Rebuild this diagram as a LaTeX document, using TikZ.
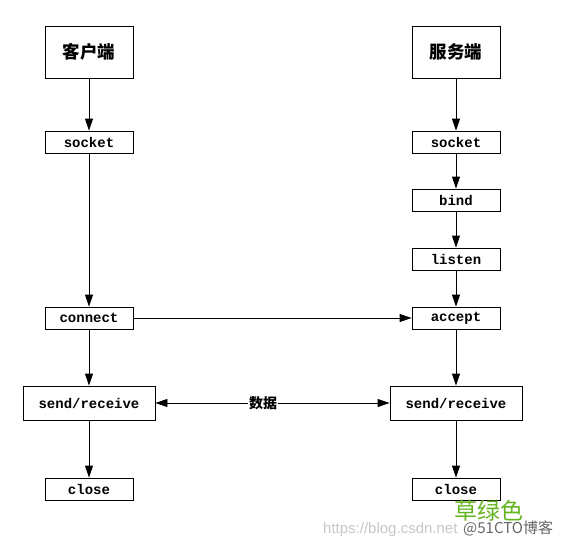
\documentclass[tikz,border=0pt]{standalone}
\usepackage{fontspec}
\setmonofont{Liberation Mono}
\setsansfont{Liberation Sans}
\newfontfamily\cjk{Noto Sans CJK SC}
\usetikzlibrary{arrows.meta}
\begin{document}
\begin{tikzpicture}[x=1pt, y=-1pt,
  v/.style={rectangle, draw, line width=0.9pt, minimum width=88pt, minimum height=22pt, inner sep=0pt, font=\fontsize{14}{16}\selectfont\ttfamily\bfseries},
  t/.style={minimum height=52pt, font=\fontsize{17.5}{19}\selectfont\cjk\bfseries},
  e/.style={-{Triangle[length=12pt,width=8pt]}, line width=0.9pt}
]
\useasboundingbox (0,0) rectangle (574,546);
\node[v, t] (client) at (89,52) {客户端};
\node[v, t] (server) at (456,52) {服务端};
\node[v] (csock) at (89,142) {socket};
\node[v] (ssock) at (456,142) {socket};
\node[v] (bind) at (456,200) {bind};
\node[v] (listen) at (456,259) {listen};
\node[v] (connect) at (89,318) {connect};
\node[v] (accept) at (456,318) {accept};
\node[v, minimum width=132pt, minimum height=34pt] (csend) at (89,403) {send/receive};
\node[v, minimum width=132pt, minimum height=34pt] (ssend) at (456,403) {send/receive};
\node[v] (cclose) at (89,489) {close};
\node[v] (sclose) at (456,489) {close};

\draw[e] (client) -- (csock);
\draw[e] (csock) -- (connect);
\draw[e] (connect) -- (csend);
\draw[e] (csend) -- (cclose);
\draw[e] (server) -- (ssock);
\draw[e] (ssock) -- (bind);
\draw[e] (bind) -- (listen);
\draw[e] (listen) -- (accept);
\draw[e] (accept) -- (ssend);
\draw[e] (ssend) -- (sclose);
\draw[e] (connect) -- (accept);
\draw[e, {Triangle[length=12pt,width=8pt]}-{Triangle[length=12pt,width=8pt]}] (csend) -- node[pos=0.46, fill=white, inner sep=1pt, font=\fontsize{14}{16}\selectfont\cjk\bfseries] (data) {数据} (ssend);

% watermark
\node[anchor=base west, inner sep=0pt, text=black!22, font=\fontsize{15}{16}\selectfont\sffamily] (wurl) at (323,533) {https://blog.csdn.net};
\node[anchor=base west, inner sep=0pt, text=black!60, font=\fontsize{15}{16}\selectfont\cjk] (wsite) at (463,533) {@51CTO博客};
\node[anchor=base west, inner sep=0pt, text={rgb,255:red,100;green,180;blue,30}, font=\fontsize{23}{24}\selectfont\cjk] (wname) at (454,519) {草绿色};
\end{tikzpicture}
\end{document}
